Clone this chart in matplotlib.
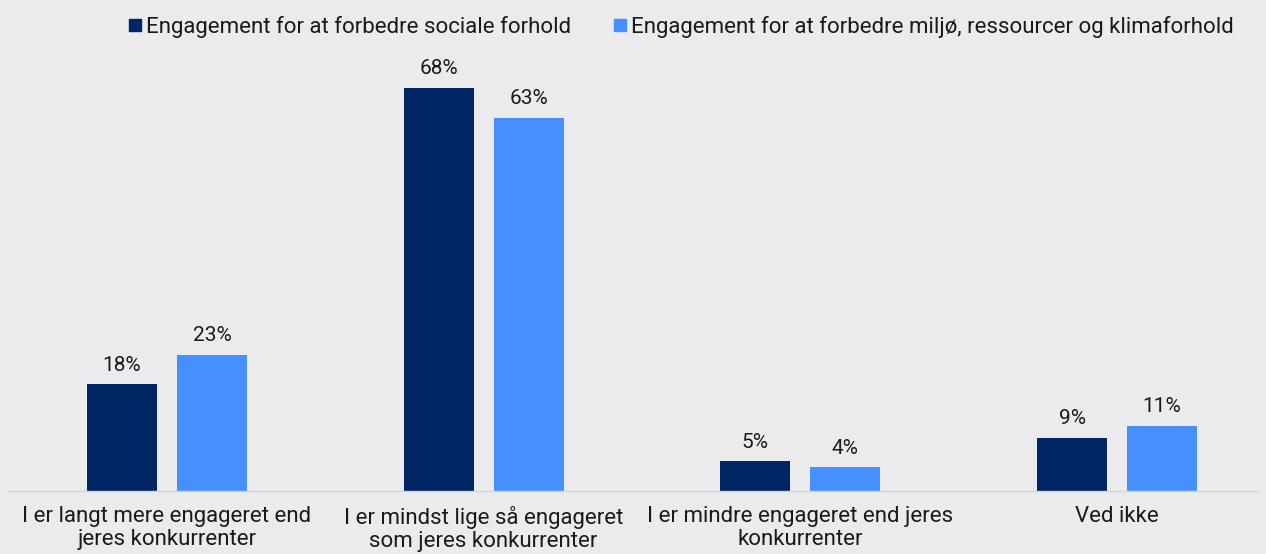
import matplotlib.pyplot as plt
import numpy as np

# data
categories = ['I er langt mere engageret end\njeres konkurrenter',
              'I er mindst lige så engageret\nsom jeres konkurrenter',
              'I er mindre engageret end jeres\nkonkurrenter',
              'Ved ikke']
social = [18, 68, 5, 9]
miljo = [23, 63, 4, 11]
series_names = ['Engagement for at forbedre sociale forhold',
                'Engagement for at forbedre miljø, ressourcer og klimaforhold']

dark = '#002663'
light = '#468FFF'
bg = '#EBEBEE'

plt.rcParams['font.family'] = ['Roboto', 'DejaVu Sans']

fig = plt.figure(figsize=(12.66, 5.54), dpi=100)
fig.patch.set_facecolor(bg)
ax = fig.add_axes([0.0063, 0.1137, 0.9874, 0.778])
ax.set_facecolor(bg)

x = np.arange(len(categories))
w = 0.221
off = 0.142
b1 = ax.bar(x - off, social, w, color=dark, label=series_names[0])
b2 = ax.bar(x + off, miljo, w, color=light, label=series_names[1])

for bars, vals in [(b1, social), (b2, miljo)]:
    for r, v in zip(bars, vals):
        ax.text(r.get_x() + r.get_width() / 2, v + 1.6, f'{v}%',
                ha='center', va='bottom', fontsize=15, color='#1a1a1a')

ax.set_xlim(-0.502, 3.445)
ax.set_ylim(0, 72.7)
ax.set_yticks([])
ax.set_xticks(x)
ax.set_xticklabels(categories, fontsize=16, color='#1a1a1a', linespacing=1.1)
ax.tick_params(axis='x', length=0, pad=11)
for s in ['top', 'right', 'left']:
    ax.spines[s].set_visible(False)
ax.spines['bottom'].set_color('#d4d4d8')
ax.spines['bottom'].set_linewidth(1)

handles = [plt.Line2D([], [], marker='s', linestyle='', color=c, markersize=8)
           for c in (dark, light)]
fig.legend(handles, series_names, loc='upper center', bbox_to_anchor=(0.537, 1.008),
           ncol=2, frameon=False, fontsize=16, handletextpad=0.1,
           columnspacing=1.8, handlelength=0.8, labelcolor='#1a1a1a')

fig.savefig('out.png', dpi=100, facecolor=bg)
